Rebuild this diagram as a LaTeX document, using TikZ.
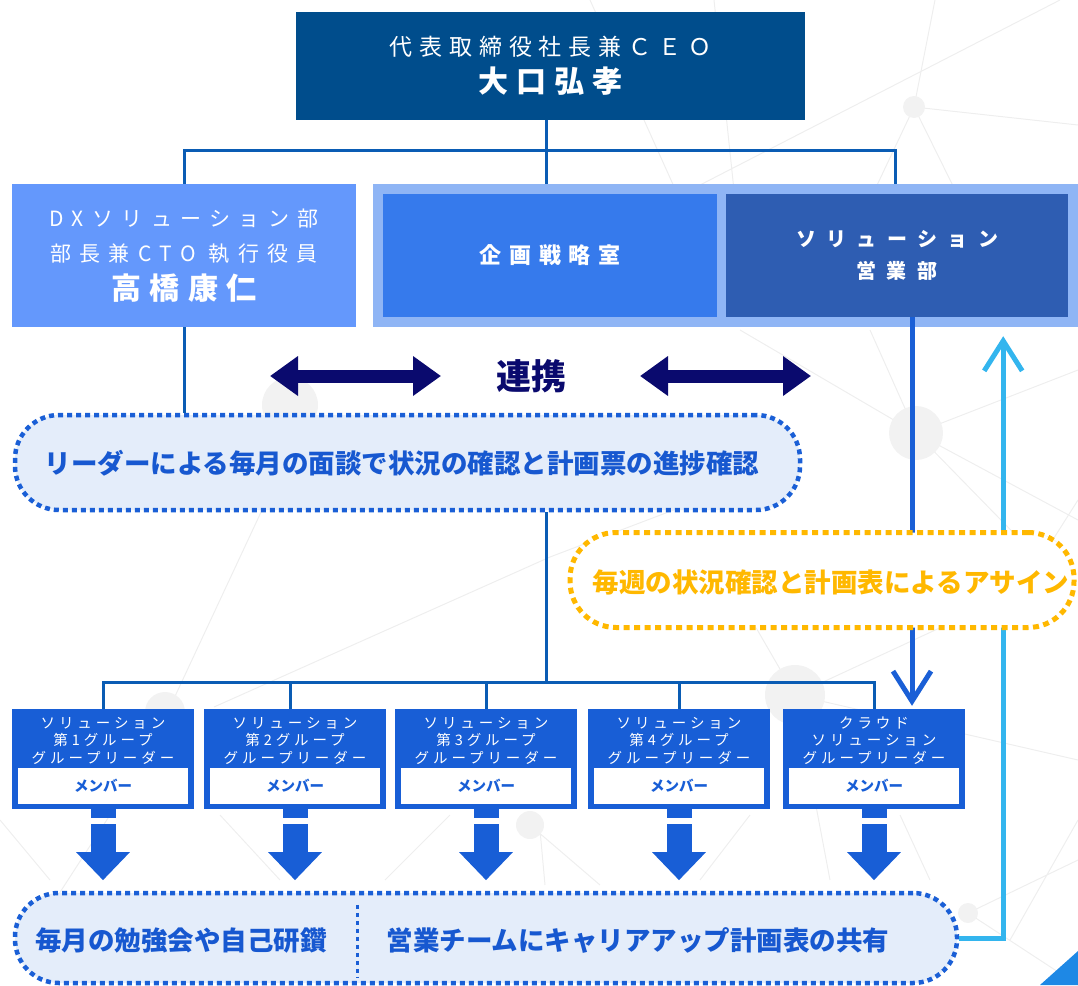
\documentclass[tikz,border=0pt]{standalone}
\usepackage{fontspec}
\setmainfont{Noto Sans CJK JP}
\usetikzlibrary{arrows.meta}
\definecolor{ceoblue}{RGB}{0,77,140}
\definecolor{linkblue}{RGB}{10,92,180}
\definecolor{dxblue}{RGB}{100,152,252}
\definecolor{wrapblue}{RGB}{143,181,245}
\definecolor{planblue}{RGB}{54,122,236}
\definecolor{salesblue}{RGB}{46,93,178}
\definecolor{navy}{RGB}{10,10,110}
\definecolor{pillfill}{RGB}{228,237,250}
\definecolor{pillblue}{RGB}{26,95,214}
\definecolor{textblue}{RGB}{23,88,208}
\definecolor{amber}{RGB}{255,184,0}
\definecolor{grpblue}{RGB}{24,94,214}
\definecolor{skyline}{RGB}{51,181,238}
\definecolor{corner}{RGB}{30,136,229}
\definecolor{web}{RGB}{238,238,238}
\definecolor{webdot}{RGB}{242,242,242}
\newcommand\lsp[1]{\addfontfeature{LetterSpace=#1}}

\begin{document}
\begin{tikzpicture}[x=1pt,y=-1pt,
  box/.style={inner sep=0pt,text=white,align=center},
  conn/.style={draw=linkblue,line width=3pt},
  pill/.style={draw=pillblue,fill=pillfill,line width=4.5pt,dash pattern=on 5pt off 4pt,
    rounded corners=44pt,inner sep=0pt},
  grp/.style={box,fill=grpblue,minimum width=182pt,minimum height=100pt},
  member/.style={inner sep=0pt,fill=white,minimum width=170pt,minimum height=36pt,
    text=grpblue,font=\fontsize{14.5}{16}\selectfont\bfseries},
  blockarrow/.style={grpblue,line width=25pt,-{Triangle[width=52pt,length=28pt]}},
  link/.style={navy,line width=13pt,{Triangle[width=38pt,length=28pt]}-{Triangle[width=38pt,length=28pt]}},
  barb/.style={line width=5pt,-{Straight Barb[width=38pt,length=30pt]}},
  pagetext/.style={font=\fontsize{26.5}{30}\selectfont\bfseries}]
  \useasboundingbox (0,0) rectangle (1078,985);

  % faint network in the background
  \begin{scope}[web,line width=1pt]
    \draw (590,0) -- (680,200) (714,0) -- (735,200) (700,185) -- (1060,0);
    \draw (914,107) -- (1078,125) (914,107) -- (935,0) (914,107) -- (870,200) (914,107) -- (960,200);
    \draw (916,433) -- (1078,370) (916,433) -- (1078,520) (916,433) -- (740,330)
      (916,433) -- (870,330) (916,433) -- (1040,560) (1040,560) -- (1078,500);
    \draw (795,695) -- (740,600) (795,695) -- (830,880) (795,695) -- (1000,600) (795,695) -- (1078,760);
    \draw (262,510) -- (170,707) (550,557) -- (214,707) (550,557) -- (700,500);
    \draw (0,820) -- (50,880) (110,815) -- (55,900) (220,815) -- (280,880) (450,815) -- (385,880)
      (530,825) -- (600,885) (540,830) -- (545,885) (750,815) -- (700,880) (900,815) -- (930,880)
      (1078,820) -- (1010,940) (968,913) -- (1078,860) (968,913) -- (1078,985);
    \fill[webdot] (914,107) circle (11) (916,433) circle (27) (1040,560) circle (25) (795,695) circle (30)
      (165,712) circle (20) (530,825) circle (14) (968,913) circle (10) (290,405) circle (28);
  \end{scope}

  \node[box,fill=ceoblue,minimum width=509pt,minimum height=108pt,
    font=\fontsize{23}{37}\selectfont] (ceo) at (550.5,66)
    {\lsp{30}代表取締役社長兼ＣＥＯ\\
     \fontsize{30}{37}\selectfont\bfseries\lsp{26}大口弘孝};
  \node[box,fill=dxblue,minimum width=344pt,minimum height=143pt,
    font=\fontsize{21}{35}\selectfont] (dx) at (184,255.5)
    {\lsp{40}DXソリューション部\\
     \lsp{40}部長兼CTO 執行役員\\[3pt]
     \fontsize{30}{35}\selectfont\bfseries\lsp{27}高橋康仁};
  \node[box,fill=wrapblue,minimum width=705pt,minimum height=143pt] (wrap) at (725.5,255.5) {};
  \node[box,fill=planblue,minimum width=334pt,minimum height=123pt] (plan) at (550,255.5)
    {\fontsize{22}{24}\selectfont\bfseries\lsp{36}企画戦略室};
  \node[box,fill=salesblue,minimum width=342pt,minimum height=123pt,
    font=\fontsize{20}{32}\selectfont\bfseries] (sales) at (897,255.5)
    {\lsp{52}ソリューション\\
     \lsp{52}営業部};

  \coordinate (la) at (270,376);
  \coordinate (lb) at (441,376);
  \coordinate (ra) at (640,376);
  \coordinate (rb) at (811,376);
  \draw[link] (la) -- (lb);
  \draw[link] (ra) -- (rb);
  \node[text=navy,font=\fontsize{35}{40}\selectfont\bfseries] (coop) at (531,376) {連携};

  \node[pill,minimum width=785pt,minimum height=95pt] (lead) at (407.5,462.5) {};
  \node[pagetext,text=textblue] (leadtext) at (402,463)
    {リーダーによる毎月の面談で状況の確認と計画票の進捗確認};

  \foreach \gx/\gn/\gt in {103/1/{ソリューション\\第1グループ\\グループリーダー},
      295/2/{ソリューション\\第2グループ\\グループリーダー},
      486/3/{ソリューション\\第3グループ\\グループリーダー},
      679/4/{ソリューション\\第4グループ\\グループリーダー},
      874/5/{クラウド\\ソリューション\\グループリーダー}} {
    \node[grp] (g\gn) at (\gx,759) {};
    \node[box,font=\fontsize{14.5}{17.5}\selectfont\lsp{27}] (gt\gn) at (\gx,740.5) {\gt};
    \node[member] (m\gn) at (\gx,786) {メンバー};
    \fill[grpblue] ([xshift=-12.5pt]g\gn.south) rectangle ++(25,9);
    \draw[blockarrow] ([yshift=-15pt]g\gn.south) -- ([yshift=-71pt]g\gn.south);
  }

  \node[pill,minimum width=942pt,minimum height=90pt] (base) at (486,938) {};
  \draw[pillblue,line width=3pt,dash pattern=on 4pt off 4pt]
    ([shift={(-129pt,-14pt)}]base.north) -- ([shift={(-129pt,8pt)}]base.south);
  \node[pagetext,text=textblue] (study) at (181,940) {毎月の勉強会や自己研鑽};
  \node[pagetext,text=textblue] (share) at (638,940) {営業チームにキャリアアップ計画表の共有};

  % connectors
  \draw[conn] ([xshift=-4.5pt]ceo.south) -- ++(0,30) coordinate (bus);
  \draw[conn] (dx.north) |- (bus) -| ([xshift=-2pt]sales.north |- wrap.north);
  \draw[conn] (bus) -- (bus |- wrap.north);
  \draw[conn] (dx.south) -- (dx.south |- lead.north);
  \draw[conn] (lead.south -| bus) -- ++(0,170) coordinate (tree);
  \draw[conn] (g1.north) |- (tree) -| (g5.north);
  \draw[conn] ([xshift=-5pt]g2.north) -- ([xshift=-5pt]g2.north |- tree);
  \foreach \gn in {3,4} \draw[conn] (g\gn.north) -- (g\gn.north |- tree);
  \draw[barb,pillblue] ([xshift=15pt]sales.south) -- ([xshift=38pt,yshift=3pt]g5.north);
  \draw[barb,skyline] (base.east) -| ([xshift=-75pt,yshift=-9pt]wrap.south east);

  \node[draw=amber,fill=white,line width=5pt,dash pattern=on 6pt off 4.5pt,rounded corners=46pt,
    inner sep=0pt,minimum width=504pt,minimum height=95pt] (weekly) at (822,580) {};
  \node[pagetext,text=amber] (weeklytext) at (831,582) {毎週の状況確認と計画表によるアサイン};

  \fill[corner] (1040,985) -- (1078,951) -- (1078,985) -- cycle;
\end{tikzpicture}
\end{document}
